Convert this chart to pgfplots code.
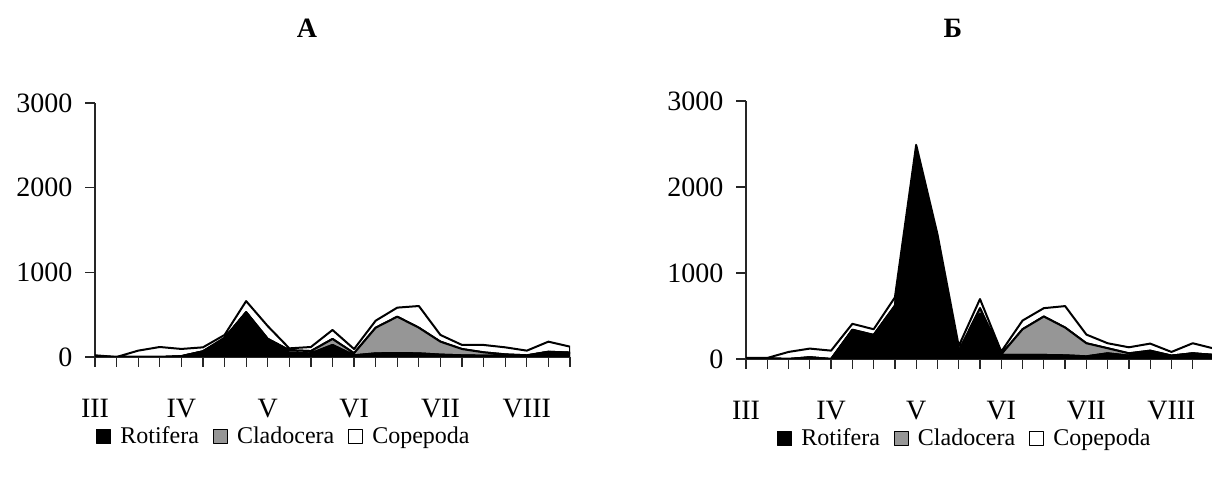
\documentclass[border=0pt]{standalone}
\usepackage{fontspec}
\setmainfont{Liberation Serif}
\usepackage{pgfplots}
\pgfplotsset{compat=1.18}
\usepackage{pgfplotstable}

% columns: x R C P (Rotifera, Cladocera, Copepoda)
\pgfplotstableread{
x R C P
0 10 0 10
1 0 0 0
2 0 0 75
3 0 0 118
4 10 0 85
5 67 0 47
6 220 5 35
7 524 6 130
8 200 15 150
9 50 30 22
10 43 27 48
11 142 71 106
12 20 25 49
13 43 303 83
14 47 429 107
15 43 303 256
16 28 153 79
17 20 74 48
18 16 39 87
19 16 15 83
20 16 4 55
21 60 2 119
22 50 2 70
}\dataA

\pgfplotstableread{
x R C P
0 8 0 4
1 8 0 4
2 0 0 82
3 20 0 101
4 0 0 97
5 335 5 69
6 272 8 66
7 611 9 96
8 2370 30 90
9 1400 10 40
10 80 10 60
11 525 65 107
12 47 7 32
13 47 299 101
14 47 447 97
15 43 323 249
16 31 152 101
17 66 59 58
18 39 27 70
19 89 8 82
20 39 0 43
21 66 0 117
22 47 0 74
}\dataB

\pgfplotsset{
  myaxis/.style={
    scale only axis,
    xmin=0, xmax=22, ymin=0, ymax=3000,
    axis x line=bottom, axis y line=left,
    axis line style={black!85, line width=0.6pt, -},
    tick align=outside,
    major tick length=4.8pt,
    tick style={black!85, line width=0.6pt},
    xtick={0,...,22},
    xticklabels={III,,,,IV,,,,V,,,,VI,,,,VII,,,,VIII,,},
    ytick={0,1000,2000,3000},
    yticklabel style={xshift=-3pt},
    xticklabel style={yshift=-13pt},
    /pgf/number format/assume math mode=true,
    /pgf/number format/1000 sep={},
    tick label style={font=\fontsize{14}{16}\selectfont},
    stack plots=y,
    legend columns=3,
    legend style={draw=none, fill=none, font=\fontsize{12}{14}\selectfont,
      /tikz/every odd column/.append style={column sep=2.5pt},
      /tikz/every even column/.append style={column sep=5pt},
      inner sep=0pt},
    legend image code/.code={\draw[#1, line width=0.5pt] (0pt,-3.5pt) rectangle (7pt,3.5pt);},
    every axis plot/.append style={line width=1pt, line join=round},
  }
}

\begin{document}
\begin{tikzpicture}
\useasboundingbox (0,0) rectangle (606pt,242.5pt);

\node[font=\fontsize{14}{16}\selectfont\bfseries] at (153.5pt,228.5pt) {А};
\node[font=\fontsize{14}{16}\selectfont\bfseries] at (476.5pt,228.5pt) {Б};

\begin{axis}[myaxis, at={(47.5pt,64pt)}, anchor=south west,
  width=237.5pt, height=127pt,
  legend style={at={(0.40,-0.315)}, anchor=center}]
\addplot[fill=black, draw=black] table[x=x, y=R] {\dataA} \closedcycle;
\addplot[fill=black!41, draw=black] table[x=x, y=C] {\dataA} \closedcycle;
\addplot[fill=white, draw=black] table[x=x, y=P] {\dataA} \closedcycle;
\legend{Rotifera, Cladocera, Copepoda}
\end{axis}

\begin{axis}[myaxis, at={(373pt,63pt)}, anchor=south west,
  width=234pt, height=129pt,
  legend style={at={(0.47,-0.31)}, anchor=center}]
\addplot[fill=black, draw=black] table[x=x, y=R] {\dataB} \closedcycle;
\addplot[fill=black!41, draw=black] table[x=x, y=C] {\dataB} \closedcycle;
\addplot[fill=white, draw=black] table[x=x, y=P] {\dataB} \closedcycle;
\legend{Rotifera, Cladocera, Copepoda}
\end{axis}
\end{tikzpicture}
\end{document}
